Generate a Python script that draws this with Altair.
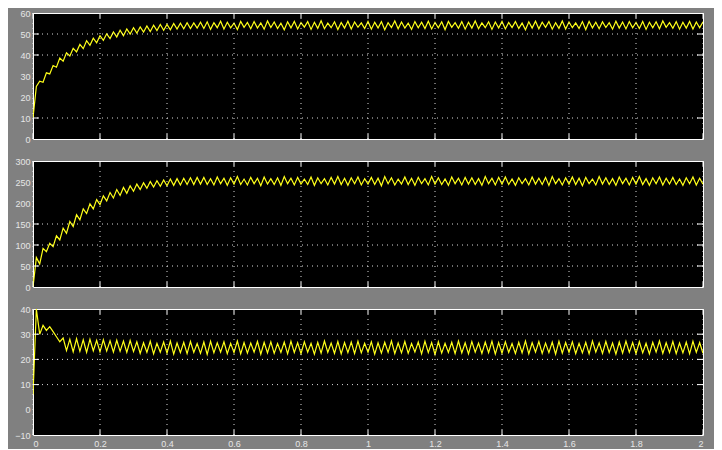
import altair as alt
import pandas as pd

# ---------------- data ----------------
time_s = [
    0.00, 0.01, 0.02, 0.03, 0.04, 0.05, 0.06, 0.07, 0.08, 0.09,
    0.10, 0.11, 0.12, 0.13, 0.14, 0.15, 0.16, 0.17, 0.18, 0.19,
    0.20, 0.21, 0.22, 0.23, 0.24, 0.25, 0.26, 0.27, 0.28, 0.29,
    0.30, 0.31, 0.32, 0.33, 0.34, 0.35, 0.36, 0.37, 0.38, 0.39,
    0.40, 0.41, 0.42, 0.43, 0.44, 0.45, 0.46, 0.47, 0.48, 0.49,
    0.50, 0.51, 0.52, 0.53, 0.54, 0.55, 0.56, 0.57, 0.58, 0.59,
    0.60, 0.61, 0.62, 0.63, 0.64, 0.65, 0.66, 0.67, 0.68, 0.69,
    0.70, 0.71, 0.72, 0.73, 0.74, 0.75, 0.76, 0.77, 0.78, 0.79,
    0.80, 0.81, 0.82, 0.83, 0.84, 0.85, 0.86, 0.87, 0.88, 0.89,
    0.90, 0.91, 0.92, 0.93, 0.94, 0.95, 0.96, 0.97, 0.98, 0.99,
    1.00, 1.01, 1.02, 1.03, 1.04, 1.05, 1.06, 1.07, 1.08, 1.09,
    1.10, 1.11, 1.12, 1.13, 1.14, 1.15, 1.16, 1.17, 1.18, 1.19,
    1.20, 1.21, 1.22, 1.23, 1.24, 1.25, 1.26, 1.27, 1.28, 1.29,
    1.30, 1.31, 1.32, 1.33, 1.34, 1.35, 1.36, 1.37, 1.38, 1.39,
    1.40, 1.41, 1.42, 1.43, 1.44, 1.45, 1.46, 1.47, 1.48, 1.49,
    1.50, 1.51, 1.52, 1.53, 1.54, 1.55, 1.56, 1.57, 1.58, 1.59,
    1.60, 1.61, 1.62, 1.63, 1.64, 1.65, 1.66, 1.67, 1.68, 1.69,
    1.70, 1.71, 1.72, 1.73, 1.74, 1.75, 1.76, 1.77, 1.78, 1.79,
    1.80, 1.81, 1.82, 1.83, 1.84, 1.85, 1.86, 1.87, 1.88, 1.89,
    1.90, 1.91, 1.92, 1.93, 1.94, 1.95, 1.96, 1.97, 1.98, 1.99,
    2.00,
]

signal_top = [
    10, 25, 27.5, 27.0, 31.5, 31.0, 35.0, 34.2, 38.5, 37.0,
    41.0, 39.5, 43.2, 41.5, 45.0, 43.0, 46.8, 44.6, 48.0, 45.8,
    49.2, 47.0, 50.1, 47.8, 51.0, 48.6, 51.8, 49.2, 52.4, 50.0,
    53.0, 50.4, 53.4, 50.9, 53.8, 51.2, 54.2, 51.6, 54.5, 51.8,
    54.6, 52.0, 55.0, 52.3, 55.1, 52.5, 55.4, 52.6, 55.3, 52.8,
    55.6,
    52.6, 55.8, 52.2, 55.4, 53.0, 56.1, 52.4, 55.6, 52.9, 55.2,
    52.1, 56.0, 53.2, 55.5, 52.5, 55.9, 52.8, 55.3, 52.3, 56.2,
    53.1, 55.7, 52.6, 55.1, 52.0, 55.8, 52.9, 56.0, 52.4, 55.4,
    53.3, 55.9, 52.2, 55.6, 52.7, 56.3, 52.5, 55.2, 53.0, 55.8,
    52.1, 55.5, 52.8, 56.1, 52.4, 55.7, 53.2, 55.3, 52.6, 56.0,
    52.3, 55.6, 52.9, 55.9, 52.0, 55.4, 53.1, 56.2, 52.5, 55.7,
    52.8, 55.2, 52.2, 55.9, 53.0, 55.6, 52.6, 56.1, 52.4, 55.5,
    52.9, 55.8, 52.1, 56.0, 53.2, 55.4, 52.7, 55.9, 52.3, 55.6,
    52.8, 56.2, 52.5, 55.3, 53.0, 55.8, 52.2, 55.7, 52.9, 56.0,
    52.4, 55.5, 53.1, 55.9, 52.6, 55.2, 52.0, 55.8, 52.8, 56.1,
    52.5, 55.6, 53.2, 55.9, 52.3, 55.4, 52.7, 56.2, 52.4, 55.7,
    53.0, 55.3, 52.6, 55.9, 52.1, 56.0, 52.9, 55.6, 52.5, 55.8,
    53.1, 55.4, 52.3, 56.1, 52.8, 55.7, 52.4, 55.9, 53.0, 55.5,
    52.6, 56.0, 52.2, 55.6, 52.9, 55.8, 52.5, 56.2, 53.2, 55.4,
    52.7, 55.9, 52.3, 55.6, 52.8, 56.0, 52.4, 55.7, 53.0, 55.8,
]

signal_mid = [
    0, 70, 55, 92, 84, 104, 96, 122, 112, 140,
    128, 156, 144, 172, 160, 186, 175, 198, 186, 208,
    196, 217, 205, 225, 212, 232, 218, 237, 223, 241,
    228, 245, 232, 248, 235, 251, 238, 253, 240, 255,
    241, 257, 242, 258, 243, 259, 244, 260, 244, 261,
    245,
    261, 244, 258, 243, 262, 246, 259, 242, 260, 245,
    263, 244, 257, 243, 261, 246, 259, 241, 262, 245,
    258, 244, 260, 242, 263, 246, 259, 243, 261, 245,
    257, 244, 262, 242, 260, 246, 258, 243, 261, 245,
    263, 244, 259, 242, 260, 246, 262, 243, 258, 245,
    261, 244, 259, 241, 263, 246, 260, 243, 257, 245,
    262, 244, 259, 242, 261, 246, 258, 243, 263, 245,
    260, 244, 257, 242, 262, 246, 259, 243, 261, 245,
    260, 244, 258, 242, 263, 246, 259, 243, 261, 245,
    262, 244, 257, 242, 260, 246, 258, 243, 262, 245,
    259, 244, 261, 242, 263, 246, 258, 243, 260, 245,
    262, 244, 259, 241, 261, 246, 257, 243, 263, 245,
    260, 244, 258, 242, 262, 246, 259, 243, 261, 245,
    263, 244, 258, 242, 260, 246, 262, 243, 259, 245,
    261, 244, 257, 242, 260, 246, 262, 243, 259, 245,
]

signal_bot = [
    6, 40, 30, 33.5, 31.5, 33, 31, 29, 27, 28.5,
    23.5, 28, 23, 28.2, 23.2, 27.8, 22.8, 28, 23.4, 27.6,
    23, 27.8, 23.3, 27.4, 22.9, 27.6, 23.2, 27.3, 22.8, 27.5,
    23.1,
    27.0, 22.4, 26.6, 22.8, 27.2, 22.2, 26.4, 22.9, 26.9, 22.5,
    27.3, 22.1, 26.5, 22.7, 26.8, 22.3, 27.1, 22.8, 26.3, 22.4,
    26.9, 22.0, 27.2, 22.6, 26.6, 22.9, 27.0, 22.3, 26.4, 22.7,
    27.3, 22.2, 26.7, 22.5, 26.5, 22.9, 27.1, 22.1, 26.8, 22.6,
    27.0, 22.4, 26.3, 22.8, 26.9, 22.2, 27.2, 22.7, 26.6, 22.3,
    27.0, 22.9, 26.4, 22.1, 26.8, 22.5, 27.3, 22.8, 26.5, 22.4,
    27.1, 22.2, 26.7, 22.7, 26.9, 22.3, 27.2, 22.6, 26.4, 22.9,
    27.0, 22.1, 26.6, 22.5, 26.8, 22.8, 27.3, 22.3, 26.5, 22.6,
    27.1, 22.4, 26.3, 22.9, 26.9, 22.2, 27.2, 22.7, 26.7, 22.0,
    27.0, 22.5, 26.4, 22.8, 26.8, 22.3, 27.3, 22.6, 26.6, 22.2,
    27.1, 22.9, 26.5, 22.4, 26.9, 22.7, 27.2, 22.1, 26.7, 22.5,
    27.0, 22.8, 26.3, 22.3, 26.8, 22.6, 27.3, 22.2, 26.6, 22.9,
    27.1, 22.4, 26.5, 22.7, 26.9, 22.1, 27.2, 22.5, 26.7, 22.8,
    27.0, 22.3, 26.4, 22.6, 26.8, 22.2, 27.3, 22.9, 26.6, 22.4,
    27.1, 22.7, 26.5, 22.1, 26.9, 22.5, 27.2, 22.8, 26.7, 22.3,
    27.0, 22.6, 26.4, 22.2, 26.8, 22.9, 27.3, 22.4, 26.6, 22.7,
    27.1, 22.3, 26.5, 22.6, 26.9, 22.2, 27.2, 22.8, 26.7, 22.4,
]

assert len(time_s) == len(signal_top) == len(signal_mid) == len(signal_bot), (
    len(time_s), len(signal_top), len(signal_mid), len(signal_bot))

x_ticks = [0, 0.2, 0.4, 0.6, 0.8, 1.0, 1.2, 1.4, 1.6, 1.8, 2.0]

top_domain = [0, 60]
top_labels = [0, 10, 20, 30, 40, 50, 60]
top_grid = [10, 40, 50]

mid_domain = [0, 300]
mid_labels = [0, 50, 100, 150, 200, 250, 300]
mid_grid = [50, 100, 150]

bot_domain = [-10, 40]
bot_labels = [-10, 0, 10, 20, 30, 40]
bot_grid = [10, 20, 30]

# ---------------- chart ----------------
W = 670
H = 126
LABEL_COLOR = "#e6e6e6"
FONT = "Liberation Sans"


def panel(values, domain, labels, grid, show_x):
    df = pd.DataFrame({"t": time_s, "v": values})
    xscale = alt.Scale(domain=[0, 2], nice=False, zero=False)
    yscale = alt.Scale(domain=domain, nice=False, zero=False)
    if show_x:
        xaxis = alt.Axis(values=x_ticks, format="~g", grid=False, ticks=False,
                         domain=False, labelColor=LABEL_COLOR, labelFontSize=9,
                         labelFont=FONT, labelPadding=4, title=None)
    else:
        xaxis = None
    yaxis = alt.Axis(values=labels, grid=False, ticks=False, domain=False,
                     labelColor=LABEL_COLOR, labelFontSize=9, labelFont=FONT,
                     labelPadding=3, minExtent=22, maxExtent=22, title=None)

    gdf = pd.DataFrame({"g": grid})
    xdf = pd.DataFrame({"xt": x_ticks})

    def X(field):
        return alt.X(field, scale=xscale, axis=xaxis)

    def Y(field):
        return alt.Y(field, scale=yscale, axis=yaxis)

    vgrid = alt.Chart(xdf).mark_rule(color="white", strokeDash=[1, 4], strokeWidth=1, opacity=0.85).encode(
        x=X("xt:Q"))
    hgrid = alt.Chart(gdf).mark_rule(color="white", strokeDash=[1, 4], strokeWidth=1, opacity=0.85).encode(
        y=Y("g:Q"))
    xt_bottom = alt.Chart(xdf).mark_rule(color="white").encode(
        x=X("xt:Q"), y=alt.value(H - 5), y2=alt.value(H))
    xt_top = alt.Chart(xdf).mark_rule(color="white").encode(
        x=X("xt:Q"), y=alt.value(0), y2=alt.value(5))
    yt_left = alt.Chart(gdf).mark_rule(color="white").encode(
        y=Y("g:Q"), x=alt.value(0), x2=alt.value(6))
    yt_right = alt.Chart(gdf).mark_rule(color="white").encode(
        y=Y("g:Q"), x=alt.value(W - 6), x2=alt.value(W))
    line = alt.Chart(df).mark_line(color="#ffff1a", strokeWidth=1.2, clip=True).encode(
        x=X("t:Q"),
        y=Y("v:Q"),
    )
    return alt.layer(line, vgrid, hgrid, xt_bottom, xt_top, yt_left, yt_right).properties(
        width=W, height=H)


chart = alt.vconcat(
    panel(signal_top, top_domain, top_labels, top_grid, False),
    panel(signal_mid, mid_domain, mid_labels, mid_grid, False),
    panel(signal_bot, bot_domain, bot_labels, bot_grid, True),
    spacing=22,
    bounds="flush",
).properties(
    background="#808080",
    padding={"left": 2, "top": 0, "right": 10, "bottom": 0},
).configure_view(
    fill="black", stroke="white", strokeWidth=1,
)

chart.save("out.html", embed_options={"renderer": "svg", "actions": False})
